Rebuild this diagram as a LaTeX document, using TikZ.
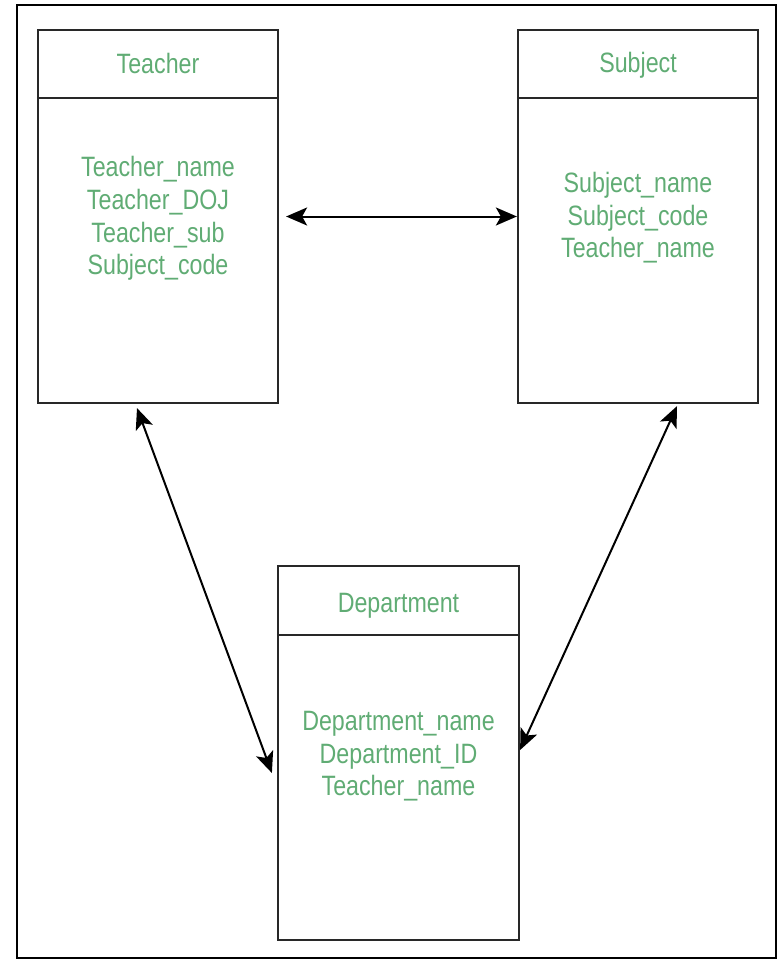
\documentclass[tikz,border=0pt]{standalone}
\usepackage{fontspec}
\setmainfont{Liberation Sans}[FakeStretch=0.83]
\usetikzlibrary{arrows.meta}
\definecolor{fieldgreen}{RGB}{96,172,116}
\definecolor{edgegray}{RGB}{40,40,40}
\tikzset{
  entity/.style={draw=edgegray, line width=2.2pt, minimum width=240pt, inner sep=0pt},
  label/.style={anchor=base, text=fieldgreen, font=\fontsize{28}{32}\selectfont, inner sep=0pt},
  tip/.tip={Stealth[length=21pt,width=18pt,inset=5pt]},
  link/.style={line width=2pt, draw=black, tip-tip}
}
\begin{document}
\begin{tikzpicture}[x=1pt, y=-1pt]
\useasboundingbox (0,0) rectangle (778,960);
% frame
\draw[line width=2.2pt] (17,5) rectangle (776,958);

% Teacher table
\node[entity, minimum height=373pt] (teacher) at (158,216.5) {};
\draw[draw=edgegray, line width=2.2pt] ([yshift=-69pt]teacher.north west) -- ([yshift=-69pt]teacher.north east);
\node[label] (teacherT) at (158,74) {Teacher};
\node[label] (t1) at (158,177) {Teacher\_name};
\node[label] (t2) at (158,209.5) {Teacher\_DOJ};
\node[label] (t3) at (158,242) {Teacher\_sub};
\node[label] (t4) at (158,274.5) {Subject\_code};

% Subject table
\node[entity, minimum height=373pt] (subject) at (638,216.5) {};
\draw[draw=edgegray, line width=2.2pt] ([yshift=-69pt]subject.north west) -- ([yshift=-69pt]subject.north east);
\node[label] (subjectT) at (638,73) {Subject};
\node[label] (s1) at (638,193) {Subject\_name};
\node[label] (s2) at (638,225) {Subject\_code};
\node[label] (s3) at (638,257) {Teacher\_name};

% Department table
\node[entity, minimum width=241pt, minimum height=374pt] (dept) at (398.5,753) {};
\draw[draw=edgegray, line width=2.2pt] ([yshift=-70pt]dept.north west) -- ([yshift=-70pt]dept.north east);
\node[label] (deptT) at (398.5,612) {Department};
\node[label] (d1) at (398.5,730) {Department\_name};
\node[label] (d2) at (398.5,763) {Department\_ID};
\node[label] (d3) at (398.5,795) {Teacher\_name};

% relationships
\draw[link] ([xshift=7pt]teacher.east) -- (subject.west);
\draw[link] ([xshift=-21pt,yshift=-4pt]teacher.south) -- ([xshift=-5pt,yshift=-20pt]dept.west);
\draw[link] ([xshift=39pt,yshift=-2pt]subject.south) -- ([yshift=3pt]dept.east);
\end{tikzpicture}
\end{document}
